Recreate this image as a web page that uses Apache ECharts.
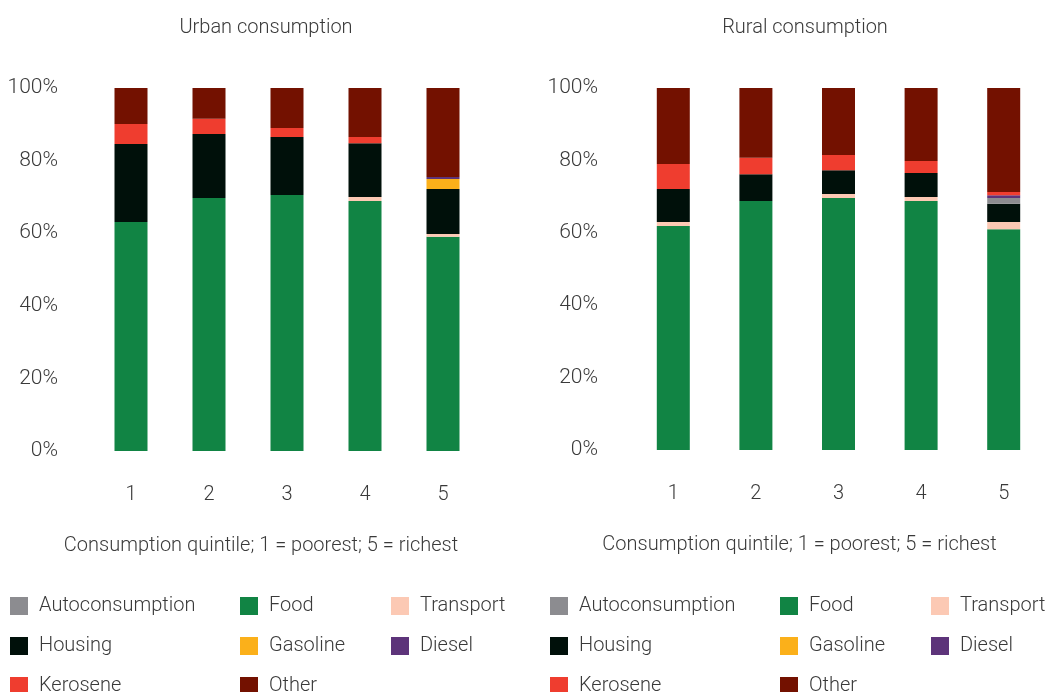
<!DOCTYPE html>
<html>
<head>
<meta charset="utf-8">
<script src="https://cdn.jsdelivr.net/npm/echarts@6/dist/echarts.min.js"></script>
<style>
  html, body { margin: 0; padding: 0; background: #fff; }
  #main { width: 1045px; height: 692px; }
</style>
</head>
<body>
<div id="main"></div>
<script>
const quintiles = ["1", "2", "3", "4", "5"];
const categories = ["Food", "Transport", "Housing", "Autoconsumption", "Gasoline", "Diesel", "Kerosene", "Other"];
const yTicks = [0, 20, 40, 60, 80, 100];

// shares in percent, quintile 1..5
const urbanFood = [63.1, 69.7, 70.5, 68.9, 59.0];
const urbanTransport = [0, 0, 0, 1.1, 0.8];
const urbanHousing = [21.5, 17.6, 16.0, 14.8, 12.4];
const urbanAuto = [0, 0, 0, 0, 0];
const urbanGasoline = [0, 0, 0, 0, 2.7];
const urbanDiesel = [0, 0, 0, 0, 0.6];
const urbanKerosene = [5.5, 4.2, 2.5, 1.7, 0];
const urbanOther = [9.9, 8.5, 11.0, 13.5, 24.5];

const ruralFood = [61.9, 68.8, 69.6, 68.8, 61.0];
const ruralTransport = [1.1, 0, 1.1, 1.1, 2.0];
const ruralHousing = [9.1, 7.4, 6.6, 6.6, 5.0];
const ruralAuto = [0, 0, 0, 0, 1.6];
const ruralGasoline = [0, 0, 0, 0, 0];
const ruralDiesel = [0, 0, 0, 0, 0.8];
const ruralKerosene = [6.9, 4.5, 4.2, 3.3, 0.9];
const ruralOther = [21.0, 19.3, 18.5, 20.2, 28.7];

const colors = {
  Autoconsumption: "#8c8c90",
  Food: "#118444",
  Transport: "#fcc9b4",
  Housing: "#00100a",
  Gasoline: "#fbb01a",
  Diesel: "#5d347a",
  Kerosene: "#ef3d2f",
  Other: "#731100"
};

const urban = [urbanFood, urbanTransport, urbanHousing, urbanAuto, urbanGasoline, urbanDiesel, urbanKerosene, urbanOther];
const rural = [ruralFood, ruralTransport, ruralHousing, ruralAuto, ruralGasoline, ruralDiesel, ruralKerosene, ruralOther];

const font = "Roboto";
const textColor = "#3a3a3a";

// namePad shifts the centred axis name left so it sits under the title
function xAxis(gridIndex, namePad) {
  return {
    type: "category",
    gridIndex: gridIndex,
    data: quintiles,
    axisLine: { show: false },
    axisTick: { show: false },
    axisLabel: { color: textColor, fontFamily: font, fontWeight: 300, fontSize: 20, margin: 34 },
    name: "Consumption quintile; 1 = poorest; 5 = richest",
    nameLocation: "middle",
    nameGap: 85,
    nameTextStyle: { color: textColor, fontFamily: font, fontWeight: 300, fontSize: 20, padding: [0, namePad, 0, 0] }
  };
}

function yAxis(gridIndex, labelDrop) {
  return {
    type: "value",
    gridIndex: gridIndex,
    min: yTicks[0],
    max: yTicks[yTicks.length - 1],
    interval: 20,
    axisLine: { show: false },
    axisTick: { show: false },
    splitLine: { show: false },
    axisLabel: {
      color: textColor, fontFamily: font, fontWeight: 300, fontSize: 21, margin: 34,
      padding: [labelDrop, 0, 0, 0], formatter: "{value}%"
    }
  };
}

function legend(left, names) {
  return {
    left: left,
    top: 596,
    height: 140,
    orient: "vertical",
    padding: 0,
    itemWidth: 18,
    itemHeight: 18,
    itemGap: 20,
    icon: "rect",
    data: names,
    textStyle: { color: textColor, fontFamily: font, fontWeight: 300, fontSize: 20, padding: [0, 0, 0, 6] }
  };
}

const series = [];
categories.forEach(function (name, i) {
  series.push({
    name: name, type: "bar", stack: "urban", xAxisIndex: 0, yAxisIndex: 0,
    barWidth: 33, itemStyle: { color: colors[name] }, data: urban[i]
  });
  series.push({
    name: name, type: "bar", stack: "rural", xAxisIndex: 1, yAxisIndex: 1,
    barWidth: 33, itemStyle: { color: colors[name] }, data: rural[i]
  });
});

const col1 = ["Autoconsumption", "Housing", "Kerosene"];
const col2 = ["Food", "Gasoline", "Other"];
const col3 = ["Transport", "Diesel"];

const chart = echarts.init(document.getElementById("main"));
chart.setOption({
  animation: false,
  title: [
    { text: "Urban consumption", left: 261, top: 13, textAlign: "center",
      textStyle: { color: textColor, fontFamily: font, fontWeight: 300, fontSize: 20 } },
    { text: "Rural consumption", left: 800, top: 13, textAlign: "center",
      textStyle: { color: textColor, fontFamily: font, fontWeight: 300, fontSize: 20 } }
  ],
  legend: [
    legend(10, col1), legend(240, col2), legend(391, col3),
    legend(550, col1), legend(780, col2), legend(931, col3)
  ],
  grid: [
    { left: 92, width: 390, top: 88, height: 363 },
    { left: 632, width: 425, top: 88, height: 362 }
  ],
  xAxis: [xAxis(0, 52), xAxis(1, 78)],
  yAxis: [yAxis(0, 6), yAxis(1, 0)],
  series: series
});
</script>
</body>
</html>
